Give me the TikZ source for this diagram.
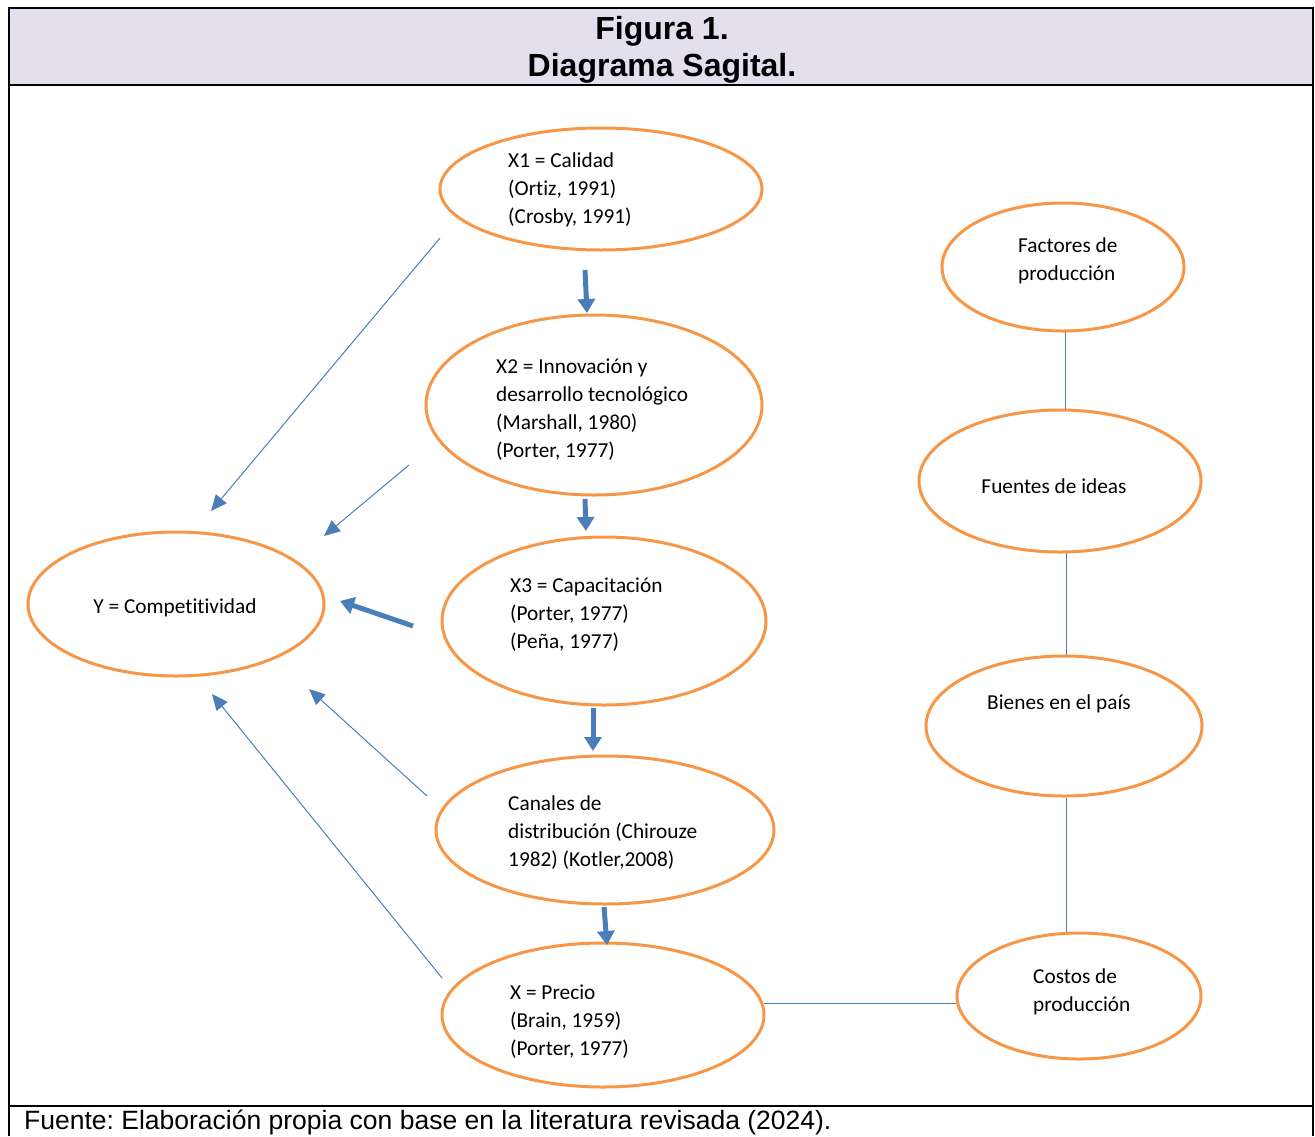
\documentclass[tikz,border=0pt]{standalone}
\usepackage{fontspec}
\setmainfont{Carlito}[Ligatures={NoCommon}]
\newfontfamily\arialf{Liberation Sans}
\usetikzlibrary{shapes.geometric,arrows.meta}
\definecolor{ellorange}{RGB}{247,150,70}
\definecolor{arrblue}{RGB}{74,126,187}
\definecolor{headlav}{RGB}{228,223,236}
\frenchspacing
\begin{document}
\begin{tikzpicture}[x=1pt,y=-1pt,
  ell/.style={draw=ellorange,line width=3pt,ellipse,inner sep=0pt},
  txt/.style={font=\fontsize{21.3}{28}\selectfont,align=left,inner sep=0pt,text=black},
  bigarr/.style={draw=arrblue,line width=5pt,-{Triangle[width=17pt,length=14pt]}},
  thinarr/.style={draw=arrblue,line width=1pt,-{Triangle[width=14pt,length=16pt]}},
  link/.style={draw=arrblue,line width=1.2pt},
  frame/.style={draw=black,line width=2pt}]
\useasboundingbox (0,0) rectangle (1315,1136);
% header and frame
\fill[headlav] (8.5,8) rectangle (1313,84.5);
\draw[frame] (8.5,1136) -- (8.5,8) -- (1313,8) -- (1313,1136);
\draw[frame] (8.5,84.5) -- (1313,84.5);
\draw[frame] (8.5,1106) -- (1313,1106);
\node[font=\arialf\bfseries\fontsize{32}{37}\selectfont,align=center,inner sep=0pt] (title) at (662,49.5) {Figura 1.\\Diagrama Sagital.};
\node[font=\arialf\fontsize{26.5}{30}\selectfont,anchor=west,inner sep=0pt] (source) at (24,1122) {Fuente: Elaboración propia con base en la literatura revisada (2024).};
% ellipses
\node[ell,minimum width=322pt,minimum height=122pt] (x1) at (601,189) {};
\node[ell,minimum width=336pt,minimum height=180pt] (x2) at (594,405) {};
\node[ell,minimum width=324pt,minimum height=168pt] (x3) at (604,621) {};
\node[ell,minimum width=338pt,minimum height=148pt] (can) at (605,830) {};
\node[ell,minimum width=322pt,minimum height=144pt] (pre) at (603,1015) {};
\node[ell,minimum width=296pt,minimum height=144pt] (y) at (176,604) {};
\node[ell,minimum width=242pt,minimum height=128pt] (fac) at (1063,267) {};
\node[ell,minimum width=282pt,minimum height=142pt] (fue) at (1060,481) {};
\node[ell,minimum width=276pt,minimum height=140pt] (bie) at (1064,726) {};
\node[ell,minimum width=244pt,minimum height=126pt] (cos) at (1079,996) {};
% texts
\node[txt,anchor=west] (x1t) at (508,190) {X1 = Calidad\\(Ortiz, 1991)\\(Crosby, 1991)};
\node[txt,anchor=west] (x2t) at (496,410) {X2 = Innovación y\\desarrollo tecnológico\\(Marshall, 1980)\\(Porter, 1977)};
\node[txt,anchor=west] (x3t) at (510,615) {X3 = Capacitación\\(Porter, 1977)\\(Peña, 1977)};
\node[txt,anchor=west] (cant) at (508,833) {Canales de\\distribución (Chirouze\\1982) (Kotler,2008)};
\node[txt,anchor=west] (pret) at (510,1022) {X = Precio\\(Brain, 1959)\\(Porter, 1977)};
\node[txt] (yt) at (175,608) {Y = Competitividad};
\node[txt,anchor=west] (fact) at (1018,261) {Factores de\\producción};
\node[txt] (fuet) at (1054,486) {Fuentes de ideas};
\node[txt] (biet) at (1059,704) {Bienes en el país};
\node[txt,anchor=west] (cost) at (1033,992) {Costos de\\producción};
% arrow end points
\coordinate (a1s) at (585,270); \coordinate (a1e) at (587,313);
\coordinate (a2s) at (585,499); \coordinate (a2e) at (586,531);
\coordinate (a3s) at (593,708); \coordinate (a3e) at (593,751);
\coordinate (a4s) at (604,907); \coordinate (a4e) at (607,945);
\coordinate (a5s) at (413,626); \coordinate (a5e) at (340,601);
\coordinate (t1s) at (440,238); \coordinate (t1e) at (211,511);
\coordinate (t2s) at (409,465); \coordinate (t2e) at (324,536);
\coordinate (t3s) at (427,796); \coordinate (t3e) at (309,689);
\coordinate (t4s) at (442,978); \coordinate (t4e) at (212,694);
\draw[bigarr] (a1s) -- (a1e);
\draw[bigarr] (a2s) -- (a2e);
\draw[bigarr] (a3s) -- (a3e);
\draw[bigarr] (a4s) -- (a4e);
\draw[bigarr] (a5s) -- (a5e);
\draw[thinarr] (t1s) -- (t1e);
\draw[thinarr] (t2s) -- (t2e);
\draw[thinarr] (t3s) -- (t3e);
\draw[thinarr] (t4s) -- (t4e);
% right chain
\draw[link] (fac.-88) -- (fac.-88 |- fue.north);
\draw[link] (fue.-85) -- (fue.-85 |- bie.north);
\draw[link] (bie.-88) -- (bie.-88 |- cos.north);
\draw[link] (pre.4.3) -- (pre.4.3 -| cos.west);
\end{tikzpicture}
\end{document}
